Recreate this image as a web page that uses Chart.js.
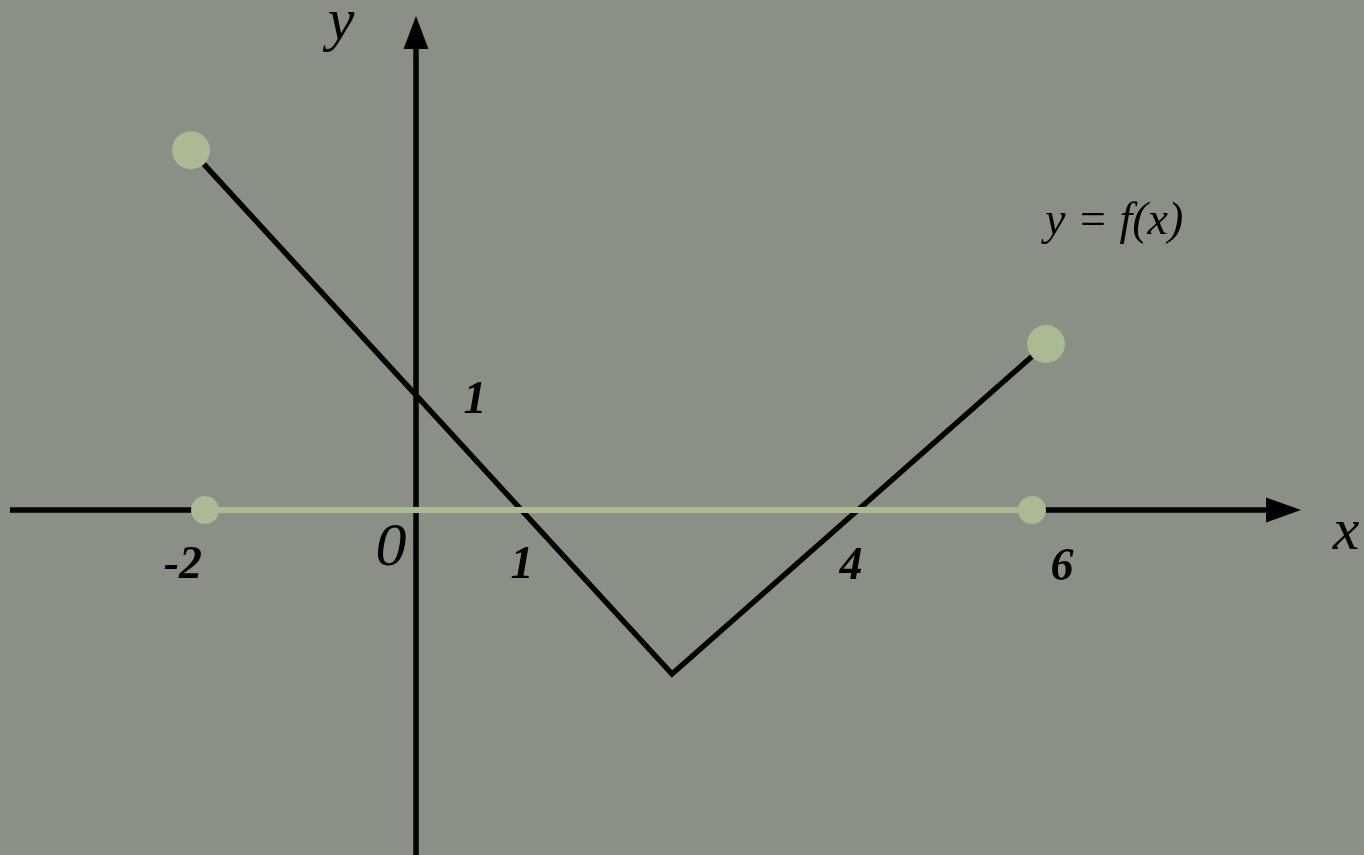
<!DOCTYPE html>
<html>
<head>
<meta charset="utf-8">
<script src="https://cdn.jsdelivr.net/npm/chart.js@4.4.1/dist/chart.umd.min.js"></script>
<style>
  html, body { margin: 0; padding: 0; background: #8a9085; }
  #wrap { width: 1364px; height: 855px; position: relative; }
</style>
</head>
<body>
<div id="wrap"><canvas id="c"></canvas></div>
<script>
// ---- data (in graph units) ----
const fX = [-2.07, 2.355, 5.796];          // vertices of y = f(x)
const fY = [3.31, -1.509, 1.527];
const domainX = [-1.941, 5.667];           // projection of the domain on the x axis
const domainY = [0, 0];
const endX = [-2.07, 5.796];               // end points of the graph
const endY = [3.31, 1.527];
const tickLabels = ['-2', '1', '4', '6'];
const tickLabelX = [-2.144, 0.975, 4.002, 5.943];
const tickLabelY = [-0.626, -0.626, -0.635, -0.644];
const yTickLabel = '1';
const originLabel = '0';
const curveLabel = 'y = f(x)';

// view window and axes extents (graph units)
const view = { xMin: -3.827, xMax: 8.721, yMin: -3.174, yMax: 4.692 };
const axisX = { from: -3.735, base: 7.82, tip: 8.142 };
const axisY = { from: -3.2, base: 4.241, tip: 4.545 };

const GREEN = '#a9ba94';
const serif = '"Liberation Serif", "Times New Roman", serif';

const toPts = (xs, ys) => xs.map((x, i) => ({ x, y: ys[i] }));

const axesPlugin = {
  id: 'axes',
  beforeDatasetsDraw(chart) {
    const { ctx, scales: { x, y } } = chart;
    const x0 = x.getPixelForValue(0), y0 = y.getPixelForValue(0);
    ctx.save();
    ctx.strokeStyle = '#000';
    ctx.fillStyle = '#000';
    ctx.lineWidth = 5.5;
    ctx.lineCap = 'butt';
    // x axis
    ctx.beginPath();
    ctx.moveTo(x.getPixelForValue(axisX.from), y0);
    ctx.lineTo(x.getPixelForValue(axisX.base), y0);
    ctx.stroke();
    const bx = x.getPixelForValue(axisX.base), tx = x.getPixelForValue(axisX.tip);
    ctx.beginPath();
    ctx.moveTo(tx, y0);
    ctx.lineTo(bx, y0 - 12.5);
    ctx.lineTo(bx, y0 + 12.5);
    ctx.closePath();
    ctx.fill();
    // y axis
    ctx.beginPath();
    ctx.moveTo(x0, y.getPixelForValue(axisY.from));
    ctx.lineTo(x0, y.getPixelForValue(axisY.base));
    ctx.stroke();
    const by = y.getPixelForValue(axisY.base), ty = y.getPixelForValue(axisY.tip);
    ctx.beginPath();
    ctx.moveTo(x0, ty);
    ctx.lineTo(x0 - 12.5, by);
    ctx.lineTo(x0 + 12.5, by);
    ctx.closePath();
    ctx.fill();
    ctx.restore();
  },
  afterDraw(chart) {
    const { ctx, scales: { x, y } } = chart;
    const put = (txt, dx, dy, font, align) => {
      ctx.font = font;
      ctx.textAlign = align || 'center';
      ctx.textBaseline = 'alphabetic';
      ctx.fillText(txt, x.getPixelForValue(dx), y.getPixelForValue(dy));
    };
    ctx.save();
    ctx.fillStyle = '#000';
    const numFont = 'italic bold 46px ' + serif;
    tickLabels.forEach((t, i) => put(t, tickLabelX[i], tickLabelY[i], numFont));
    put(yTickLabel, 0.543, 0.892, numFont);
    put(originLabel, -0.23, -0.506, 'italic 62px ' + serif);
    put('y', -0.69, 4.333, 'italic 60px ' + serif);
    put('x', 8.556, -0.359, 'italic 60px ' + serif);
    put(curveLabel, 5.787, 2.539, 'italic 46px ' + serif, 'left');
    ctx.restore();
  }
};

new Chart(document.getElementById('c'), {
  type: 'scatter',
  data: {
    datasets: [
      {
        label: 'ends',
        data: toPts(endX, endY),
        showLine: false,
        pointRadius: 19,
        pointBackgroundColor: GREEN,
        pointBorderWidth: 0,
        pointBorderColor: GREEN
      },
      {
        label: 'domain',
        data: toPts(domainX, domainY),
        showLine: true,
        borderColor: GREEN,
        borderWidth: 6,
        pointRadius: 14,
        pointBackgroundColor: GREEN,
        pointBorderWidth: 0,
        pointBorderColor: GREEN
      },
      {
        label: 'f',
        data: toPts(fX, fY),
        showLine: true,
        borderColor: '#000',
        borderWidth: 5.5,
        borderJoinStyle: 'miter',
        pointRadius: 0,
        tension: 0
      }
    ]
  },
  options: {
    responsive: true,
    maintainAspectRatio: false,
    animation: false,
    layout: { padding: 0, autoPadding: false },
    plugins: { legend: { display: false }, tooltip: { enabled: false } },
    events: [],
    scales: {
      x: { type: 'linear', display: false, min: view.xMin, max: view.xMax },
      y: { type: 'linear', display: false, min: view.yMin, max: view.yMax }
    }
  },
  plugins: [axesPlugin]
});
</script>
</body>
</html>
